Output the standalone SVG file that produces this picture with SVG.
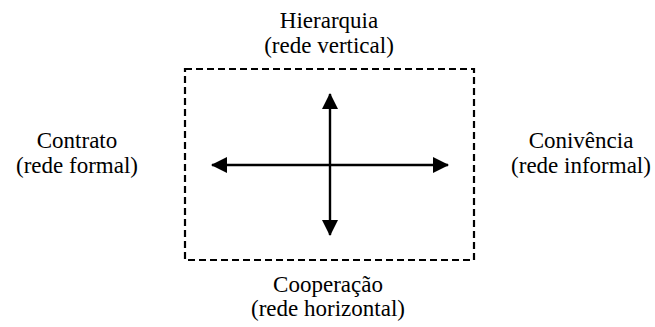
<svg xmlns="http://www.w3.org/2000/svg" width="655" height="327" viewBox="0 0 655 327">
<style>
text{font-family:'Liberation Serif','Times New Roman','DejaVu Serif',serif;font-size:23px;fill:#000;text-anchor:middle}
.ln{stroke:#000;stroke-width:2.4;fill:none}
</style>
<defs>
<marker id="ah" markerUnits="userSpaceOnUse" markerWidth="16" markerHeight="16" refX="15" refY="8" orient="auto-start-reverse" viewBox="0 0 16 16">
<path d="M0,0 L16,8 L0,16 Z" fill="#000"/>
</marker>
</defs>
<g id="frame">
<rect x="185" y="69" width="289" height="191" fill="none" stroke="#000" stroke-width="2.2" stroke-dasharray="7,4"/>
</g>
<g id="connectors">
<line class="ln" x1="330" y1="94" x2="330" y2="235" marker-start="url(#ah)" marker-end="url(#ah)"/>
<line class="ln" x1="212" y1="165" x2="448" y2="165" marker-start="url(#ah)" marker-end="url(#ah)"/>
</g>
<g id="top">
<text x="329" y="28" font-family="Liberation Serif, serif">Hierarquia</text>
<text x="329" y="53" font-family="Liberation Serif, serif">(rede vertical)</text>
</g>
<g id="left">
<text x="77" y="148" font-family="Liberation Serif, serif">Contrato</text>
<text x="77" y="173" font-family="Liberation Serif, serif">(rede formal)</text>
</g>
<g id="right">
<text x="581" y="148" font-family="Liberation Serif, serif">Conivência</text>
<text x="581" y="173" font-family="Liberation Serif, serif">(rede informal)</text>
</g>
<g id="bottom">
<text x="328" y="292" font-family="Liberation Serif, serif">Cooperação</text>
<text x="328" y="316" font-family="Liberation Serif, serif">(rede horizontal)</text>
</g>
</svg>
